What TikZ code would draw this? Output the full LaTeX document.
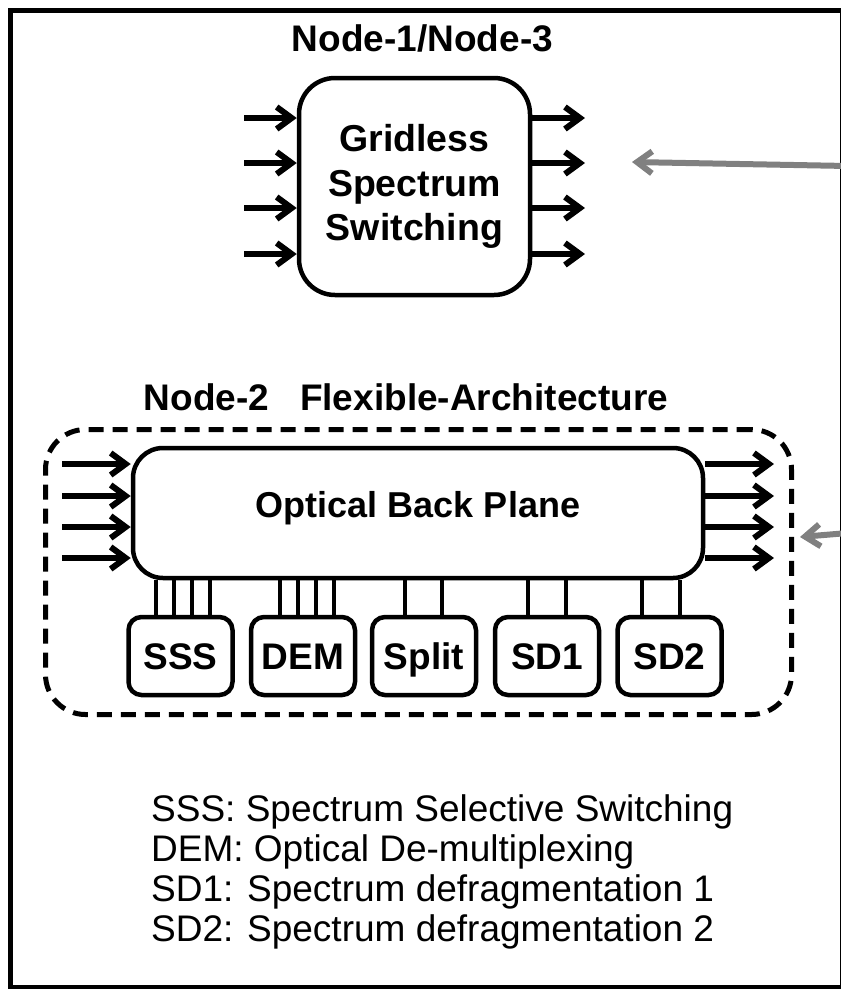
\documentclass[tikz,border=0pt]{standalone}
\usepackage{fontspec}
\setmainfont{Liberation Sans}
\usetikzlibrary{arrows.meta}

\begin{document}
\begin{tikzpicture}[x=1pt,y=-1pt,
  box/.style={draw, line width=4.5pt, inner sep=0pt, align=center},
  unitbox/.style={box, rounded corners=13pt,
    minimum width=104pt, minimum height=78pt,
    font=\bfseries\fontsize{37}{40}\selectfont,
    text height=27pt, text depth=0pt},
  flow/.style={line width=6pt, -{Straight Barb[length=15pt,width=22pt]}},
  pointer/.style={line width=6pt, draw=gray, -{Straight Barb[length=15pt,width=22pt]}},
  link/.style={line width=4.5pt},
  heading/.style={inner sep=0pt, anchor=base, font=\bfseries\fontsize{37}{40}\selectfont},
  note/.style={inner sep=0pt, anchor=base west, font=\fontsize{37}{40}\selectfont}]
\useasboundingbox (0,0) rectangle (841,989);
\clip (0,0) rectangle (841,989);
\fill[white] (0,0) rectangle (841,989);

% outer frame
\draw[line width=5pt] (10,10) rectangle (842,987);

% ---------- Node-1 / Node-3 ----------
\node[heading] (t13) at (422.5,51) {Node-1/Node-3};
\node[box, rounded corners=36pt, minimum width=231pt, minimum height=217pt,
  font=\bfseries\fontsize{37.5}{44.5}\selectfont]
  (gss) at (414.5,186.5) {Gridless\\Spectrum\\Switching};

\foreach \y [count=\i] in {118,163,208,254}{
  \coordinate (gin\i) at (244,\y);
  \coordinate (gout\i) at (585,\y);
  \draw[flow] (gin\i) -- (gss.west |- gin\i);
  \draw[flow] (gss.east |- gout\i) -- (gout\i);
}

% ---------- Node-2 ----------
\node[heading] (t2) at (406,410) {Node-2~~~Flexible-Architecture};
\node[draw, line width=5pt, dash pattern=on 15pt off 9pt, rounded corners=40pt,
  minimum width=746pt, minimum height=285pt] (flex) at (418.5,572) {};
\node[box, rounded corners=30pt, minimum width=570pt, minimum height=130pt,
  font=\bfseries\fontsize{36}{40}\selectfont,
  text height=26.3pt, text depth=18.3pt]
  (obp) at (418,513) {Optical Back Plane};

\foreach \y [count=\i] in {464,496,527,558}{
  \coordinate (pin\i) at (62,\y);
  \coordinate (pout\i) at (774,\y);
  \draw[flow] (pin\i) -- (obp.west |- pin\i);
  \draw[flow] (obp.east |- pout\i) -- (pout\i);
}

\node[unitbox] (sss)   at (180.5,656) {SSS};
\node[unitbox] (dem)   at (303,656)   {DEM};
\node[unitbox] (split) at (424,656)   {Split};
\node[unitbox] (sd1)   at (547,656)   {SD1};
\node[unitbox] (sd2)   at (669.5,656) {SD2};

\foreach \x in {156,174,192,210}
  \draw[link] (obp.south -| \x,0) -- (sss.north -| \x,0);
\foreach \x in {280,298,316,334}
  \draw[link] (obp.south -| \x,0) -- (dem.north -| \x,0);
\foreach \x in {405,442}
  \draw[link] (obp.south -| \x,0) -- (split.north -| \x,0);
\foreach \x in {528,566}
  \draw[link] (obp.south -| \x,0) -- (sd1.north -| \x,0);
\foreach \x in {642,680}
  \draw[link] (obp.south -| \x,0) -- (sd2.north -| \x,0);

% pointers coming in from the right
\coordinate (p1) at (848,166);
\coordinate (p2) at (848,533);
\coordinate (q1) at (632,162);
\coordinate (q2) at (800,537);
\draw[pointer] (p1) -- (q1);
\draw[pointer] (p2) -- (q2);

% ---------- legend ----------
\node[note] (n1) at (151,821) {SSS: Spectrum Selective Switching};
\node[note] (n2) at (151,861) {DEM: Optical De-multiplexing};
\node[note] (n3) at (151,901) {SD1: Spectrum defragmentation 1};
\node[note] (n4) at (151,941) {SD2: Spectrum defragmentation 2};
\end{tikzpicture}
\end{document}
